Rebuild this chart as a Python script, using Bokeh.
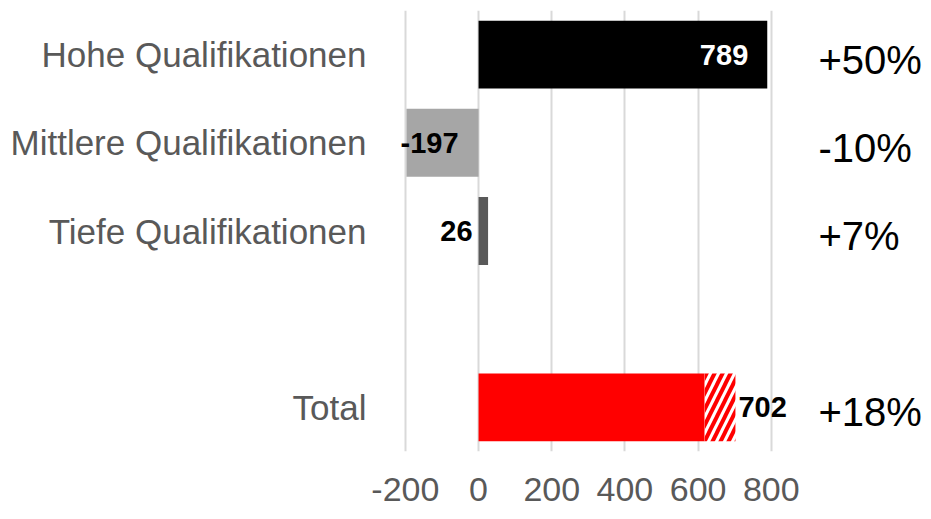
from bokeh.plotting import figure
from bokeh.models import Range1d, FactorRange, FixedTicker, ColumnDataSource
from bokeh.core.properties import value
from bokeh.embed import file_html
from bokeh.resources import INLINE

# ---- data ----
categories = ["Hohe Qualifikationen", "Mittlere Qualifikationen", "Tiefe Qualifikationen", "Total"]
values = [789, -197, 26, 702]
bar_colors = ["#000000", "#a6a6a6", "#595959", "#ff0000"]
pct_labels = ["+50%", "-10%", "+7%", "+18%"]
total_solid = 618          # solid part of the Total bar; rest is hatched
x_ticks = [-200, 0, 200, 400, 600, 800]
spacer = " "

factors = [categories[3], spacer, categories[2], categories[1], categories[0]]

SANS = "Liberation Sans"

p = figure(width=923, height=511, output_backend="svg", toolbar_location=None,
           y_range=FactorRange(*factors, range_padding=0),
           x_range=Range1d(-227, 1216),
           min_border_left=395, min_border_right=0, min_border_top=10, min_border_bottom=60)
p.outline_line_color = None
p.background_fill_color = "white"
p.border_fill_color = "white"

# main bars (Total only solid part, hatched part separately)
solid_right = values[:3] + [total_solid]
src = ColumnDataSource(dict(y=categories, left=[0] * 4, right=solid_right, color=bar_colors))
p.hbar(y="y", left="left", right="right", height=0.77, fill_color="color", line_color=None, source=src)
p.hbar(y=[categories[3]], left=[total_solid], right=[values[3]], height=0.77,
       fill_color="white", line_color=None, hatch_pattern="/", hatch_color="#ff0000",
       hatch_weight=4, hatch_scale=16)

# value labels
lx = [values[0], values[1], 0, values[3]]
lalign = ["right", "left", "right", "left"]
loff = [-19, -6, -6, 3]
lcol = ["white", "black", "black", "black"]
lsrc = ColumnDataSource(dict(x=lx, y=categories, t=[str(v) for v in values], a=lalign, o=loff, c=lcol))
p.text(x="x", y="y", text="t", text_align="a", x_offset="o", text_color="c", source=lsrc,
       text_baseline="middle", text_font=value(SANS), text_font_style="bold", text_font_size="29px")

# percent labels
pct_x = 929
psrc = ColumnDataSource(dict(x=[pct_x] * 4, y=categories, t=pct_labels))
p.text(x="x", y="y", text="t", source=psrc, text_align="left", text_baseline="middle",
       y_offset=5, text_font=value(SANS), text_font_size="40px", text_color="black")

# axes and grid
p.xaxis.ticker = FixedTicker(ticks=x_ticks)
p.xaxis.major_label_overrides = {t: str(t) for t in x_ticks}
p.xaxis.axis_line_color = None
p.xaxis.major_tick_line_color = None
p.xaxis.minor_tick_line_color = None
p.xaxis.major_label_standoff = 20
p.xaxis.major_label_text_font = SANS
p.xaxis.major_label_text_font_size = "34px"
p.xaxis.major_label_text_color = "#595959"

p.yaxis.axis_line_color = None
p.yaxis.major_tick_line_color = None
p.yaxis.minor_tick_line_color = None
p.yaxis.major_label_standoff = 23
p.yaxis.major_label_text_font = SANS
p.yaxis.major_label_text_font_size = "35px"
p.yaxis.major_label_text_color = "#595959"

p.ygrid.grid_line_color = None
p.xgrid.grid_line_color = "#d9d9d9"
p.xgrid.grid_line_width = 2

open("out.html", "w").write(file_html(p, INLINE))
